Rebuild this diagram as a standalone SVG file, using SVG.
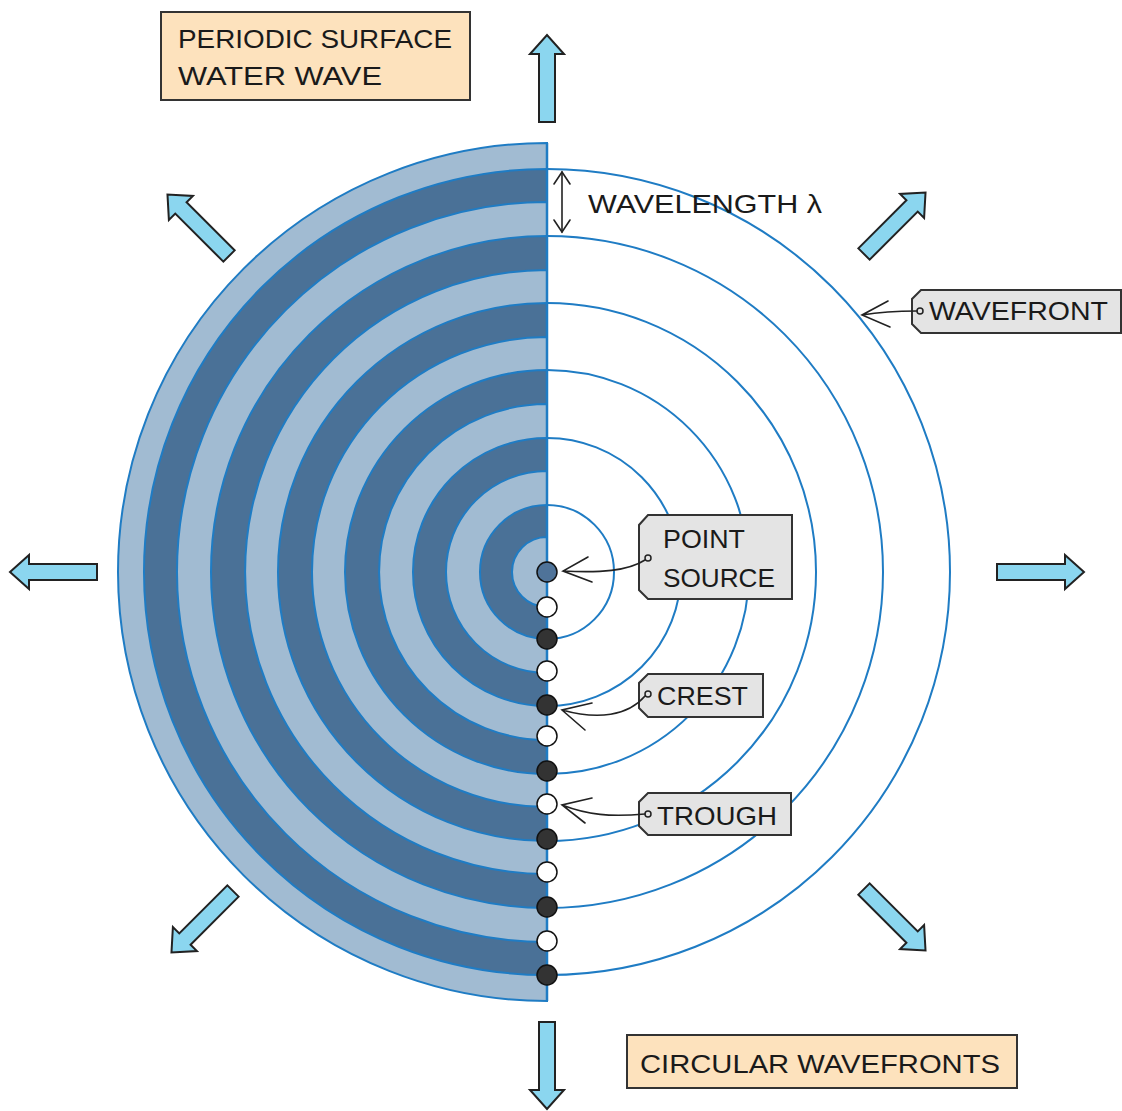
<svg xmlns="http://www.w3.org/2000/svg" width="1122" height="1111" viewBox="0 0 1122 1111">
<style>
.lt{fill:#a1bbd2;stroke:#1f7cc4;stroke-width:2}
.dk{fill:#4a7197;stroke:#1f7cc4;stroke-width:2}
.wf{fill:none;stroke:#1f7cc4;stroke-width:2}
.arr{fill:#8bd6ef;stroke:#222;stroke-width:2;stroke-linejoin:miter}
.box{fill:#fde2bd;stroke:#333;stroke-width:2}
.tag{fill:#e4e4e4;stroke:#333;stroke-width:2}
.hole{fill:#e4e4e4;stroke:#222;stroke-width:1.5}
.lead{fill:none;stroke:#222;stroke-width:1.6;stroke-linecap:round}
.t{font-family:"Liberation Sans","DejaVu Sans",sans-serif;font-size:26px;fill:#1a1a1a}
.dotB{fill:#333;stroke:#111;stroke-width:1.5}
.dotW{fill:#fff;stroke:#111;stroke-width:1.5}
.dotS{fill:#4f7399;stroke:#111;stroke-width:1.5}
</style>
<defs>
<polygon id="ar" points="0,-8 68,-8 68,-17 87,0 68,17 68,8 0,8"/>
</defs>
<rect width="1122" height="1111" fill="#fff"/>
<g id="water">
<path class="lt" d="M547,143 A429,429 0 0 0 547,1001 Z"/>
<path class="dk" d="M547,169 A403,403 0 0 0 547,975 Z"/>
<path class="lt" d="M547,202 A370,370 0 0 0 547,942 Z"/>
<path class="dk" d="M547,236 A336,336 0 0 0 547,908 Z"/>
<path class="lt" d="M547,270 A302,302 0 0 0 547,874 Z"/>
<path class="dk" d="M547,303 A269,269 0 0 0 547,841 Z"/>
<path class="lt" d="M547,337 A235,235 0 0 0 547,807 Z"/>
<path class="dk" d="M547,370 A202,202 0 0 0 547,774 Z"/>
<path class="lt" d="M547,404 A168,168 0 0 0 547,740 Z"/>
<path class="dk" d="M547,438 A134,134 0 0 0 547,706 Z"/>
<path class="lt" d="M547,471 A101,101 0 0 0 547,673 Z"/>
<path class="dk" d="M547,505 A67,67 0 0 0 547,639 Z"/>
<path class="lt" d="M547,537 A35,35 0 0 0 547,607 Z"/>
</g>
<g id="wavefronts">
<path class="wf" d="M547,169 A403,403 0 0 1 547,975"/>
<path class="wf" d="M547,236 A336,336 0 0 1 547,908"/>
<path class="wf" d="M547,303 A269,269 0 0 1 547,841"/>
<path class="wf" d="M547,370 A202,202 0 0 1 547,774"/>
<path class="wf" d="M547,438 A134,134 0 0 1 547,706"/>
<path class="wf" d="M547,505 A67,67 0 0 1 547,639"/>
<line x1="547" y1="143" x2="547" y2="1001" stroke="#1f7cc4" stroke-width="2.5"/>
</g>
<g id="dots">
<circle class="dotS" cx="547" cy="572" r="10"/>
<circle class="dotW" cx="547" cy="607" r="10"/>
<circle class="dotB" cx="547" cy="639" r="10"/>
<circle class="dotW" cx="547" cy="671" r="10"/>
<circle class="dotB" cx="547" cy="705" r="10"/>
<circle class="dotW" cx="547" cy="736" r="10"/>
<circle class="dotB" cx="547" cy="771" r="10"/>
<circle class="dotW" cx="547" cy="804" r="10"/>
<circle class="dotB" cx="547" cy="839" r="10"/>
<circle class="dotW" cx="547" cy="872" r="10"/>
<circle class="dotB" cx="547" cy="907" r="10"/>
<circle class="dotW" cx="547" cy="941" r="10"/>
<circle class="dotB" cx="547" cy="975" r="10"/>
</g>
<g id="arrows">
<use href="#ar" class="arr" transform="translate(547,122) rotate(-90)"/>
<use href="#ar" class="arr" transform="translate(547,1022) rotate(90)"/>
<use href="#ar" class="arr" transform="translate(97,572) rotate(180)"/>
<use href="#ar" class="arr" transform="translate(997,572)"/>
<use href="#ar" class="arr" transform="translate(864,254) rotate(-45)"/>
<use href="#ar" class="arr" transform="translate(229,256) rotate(-135)"/>
<use href="#ar" class="arr" transform="translate(233,891) rotate(135)"/>
<use href="#ar" class="arr" transform="translate(864,889) rotate(45)"/>
</g>
<g id="title-box">
<rect class="box" x="161" y="12" width="309" height="88"/>
<text class="t" x="178" y="48" textLength="274" lengthAdjust="spacingAndGlyphs">PERIODIC SURFACE</text>
<text class="t" x="178" y="85" textLength="204" lengthAdjust="spacingAndGlyphs">WATER WAVE</text>
</g>
<g id="circular-box">
<rect class="box" x="627" y="1035" width="390" height="53"/>
<text class="t" x="640" y="1073" textLength="360" lengthAdjust="spacingAndGlyphs">CIRCULAR WAVEFRONTS</text>
</g>
<g id="wavelength">
<g class="lead">
<line x1="562" y1="172" x2="562" y2="232"/>
<polyline points="554,184 562,172 570,184"/>
<polyline points="554,220 562,232 570,220"/>
</g>
<text class="t" x="588" y="213" textLength="234" lengthAdjust="spacingAndGlyphs">WAVELENGTH λ</text>
</g>
<g id="wavefront-tag">
<path class="tag" d="M921,290 L1121,290 L1121,333 L921,333 L912,324 L912,299 Z"/>
<circle class="hole" cx="920" cy="311" r="3"/>
<text class="t" x="929" y="320" textLength="179" lengthAdjust="spacingAndGlyphs">WAVEFRONT</text>
<path class="lead" d="M917,311 C900,311 880,312 862,315 M888,301 L862,315 L890,327"/>
</g>
<g id="point-source-tag">
<path class="tag" d="M648,515 L792,515 L792,599 L648,599 L639,590 L639,525 Z"/>
<circle class="hole" cx="648" cy="558" r="3"/>
<text class="t" x="663" y="548" textLength="82" lengthAdjust="spacingAndGlyphs">POINT</text>
<text class="t" x="663" y="587" textLength="112" lengthAdjust="spacingAndGlyphs">SOURCE</text>
<path class="lead" d="M645,560 C628,571 600,573 563,571 M588,557 L563,571 L592,582"/>
</g>
<g id="crest-tag">
<path class="tag" d="M648,674 L763,674 L763,717 L648,717 L639,708 L639,683 Z"/>
<circle class="hole" cx="648" cy="694" r="3"/>
<text class="t" x="657" y="705" textLength="91" lengthAdjust="spacingAndGlyphs">CREST</text>
<path class="lead" d="M645,696 C628,716 598,720 562,710 M592,703 L562,710 L585,730"/>
</g>
<g id="trough-tag">
<path class="tag" d="M648,793 L791,793 L791,835 L648,835 L639,826 L639,802 Z"/>
<circle class="hole" cx="648" cy="814" r="3"/>
<text class="t" x="657" y="825" textLength="120" lengthAdjust="spacingAndGlyphs">TROUGH</text>
<path class="lead" d="M645,814 C610,817 588,815 562,805 M592,798 L562,805 L585,823"/>
</g>
</svg>
